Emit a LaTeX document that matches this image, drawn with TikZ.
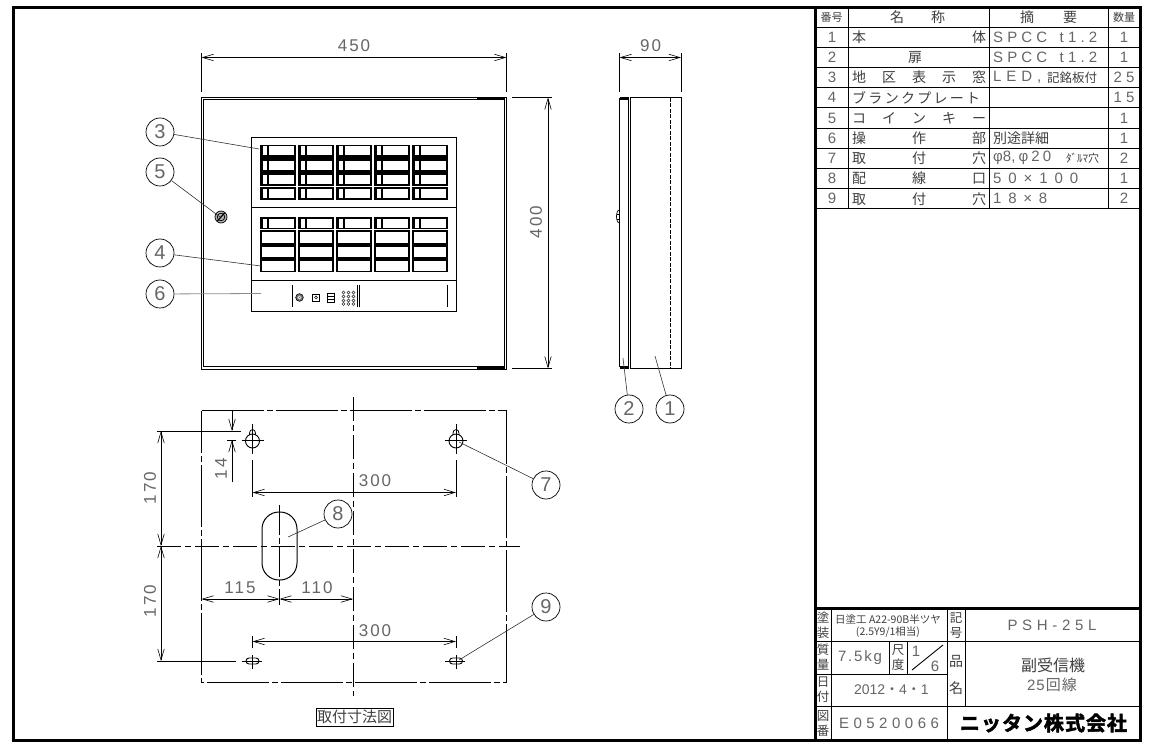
\documentclass[tikz,border=0pt]{standalone}
\usepackage{fontspec}
\usetikzlibrary{arrows.meta}
\setmainfont{Liberation Sans}
\newfontfamily\cjk{Noto Sans CJK JP}
\newfontfamily\cjkb[FakeBold=2.5]{Noto Sans CJK JP Bold}
\newfontfamily\dimfont[LetterSpace=12]{Liberation Sans}
\newcommand{\sprd}[2]{\makebox[#1pt][s]{#2}}
\newcommand{\hf}{\hfil}
\tikzset{
 x=1pt,y=-1pt,
 ln/.style={line width=0.9pt,black},
 thin line/.style={line width=0.7pt,black!85},
 frame line/.style={line width=3pt,black},
 dimline/.style={line width=0.9pt,{Straight Barb[length=11pt,width=6.5pt,line width=0.6pt]}-{Straight Barb[length=11pt,width=6.5pt,line width=0.6pt]}},
 extline/.style={line width=0.9pt},
 balloon/.style={circle,draw,line width=0.7pt,minimum size=28pt,inner sep=0pt,font=\fontsize{20}{20}\selectfont,text=black!60},
 leader/.style={line width=0.6pt,black!80},
 dimtext/.style={inner sep=0pt,font=\dimfont\fontsize{17}{17}\selectfont,text=black!60},
 cell/.style={inner sep=0pt,anchor=west,font=\cjk\fontsize{14}{14}\selectfont,text=black!75},
 latin/.style={inner sep=0pt,anchor=west,font=\fontsize{15}{15}\selectfont,text=black!60},
 num/.style={inner sep=0pt,font=\fontsize{15}{15}\selectfont,text=black!60},
 stack/.style={inner sep=0pt,align=center,font=\cjk\fontsize{12.5}{15}\selectfont,text=black!75},
 cline/.style={line width=0.8pt,dash pattern=on 24pt off 4pt on 6pt off 4pt},
 edge line/.style={line width=1pt,dash pattern=on 62pt off 3pt on 6pt off 3pt},
}
\begin{document}
\begin{tikzpicture}
\useasboundingbox (0,0) rectangle (1152,751);
\fill[white] (0,0) rectangle (1152,751);
% outer frame
\draw[frame line] (13.5,7.5) rectangle (1140,740);
\draw[frame line] (815,7.5) -- (815,740);
\draw[frame line] (815,608) -- (1140,608);
% parts list
\foreach \y in {27,47.2,67.4,87.6,107.8,128,148.2,168.4,188.6,208.8}{\draw[ln] (815,\y) -- (1140,\y);}
\foreach \x in {848,989,1108}{\draw[ln] (\x,8) -- (\x,208.8);}
\node[stack,font=\cjk\fontsize{11}{11}\selectfont] (h1) at (831.5,17.5) {番号};
\node[cell] (h2) at (890,17.5) {\sprd{55}{名\hf 称}};
\node[cell] (h3) at (1020,17.5) {\sprd{57}{摘\hf 要}};
\node[stack,font=\cjk\fontsize{11}{11}\selectfont] (h4) at (1124,17.5) {数量};
\node[num] (r1n) at (832,37) {1};
\node[num] (r2n) at (832,57.2) {2};
\node[num] (r3n) at (832,77.5) {3};
\node[num] (r4n) at (832,97.7) {4};
\node[num] (r5n) at (832,118) {5};
\node[num] (r6n) at (832,138) {6};
\node[num] (r7n) at (832,158.3) {7};
\node[num] (r8n) at (832,178.5) {8};
\node[num] (r9n) at (832,198.7) {9};
\node[cell] (r1a) at (852,37) {\sprd{134}{本\hf 体}};
\node[cell,anchor=center] (r2a) at (915,57.2) {扉};
\node[cell] (r3a) at (852,77.5) {\sprd{134}{地\hf 区\hf 表\hf 示\hf 窓}};
\node[cell] (r4a) at (852,97.7) {\sprd{128}{ブ\hf ラ\hf ン\hf ク\hf プ\hf レ\hf ー\hf ト}};
\node[cell] (r5a) at (852,118) {\sprd{134}{コ\hf イ\hf ン\hf キ\hf ー}};
\node[cell] (r6a) at (852,138) {\sprd{134}{操\hf 作\hf 部}};
\node[cell] (r7a) at (852,158.3) {\sprd{134}{取\hf 付\hf 穴}};
\node[cell] (r8a) at (852,178.5) {\sprd{134}{配\hf 線\hf 口}};
\node[cell] (r9a) at (852,198.7) {\sprd{134}{取\hf 付\hf 穴}};
\node[latin] (r1b) at (993,37) {\sprd{104}{S\hf P\hf C\hf C\hf\hf\hf t\hf 1\hf .\hf 2}};
\node[latin] (r2b) at (993,57.2) {\sprd{104}{S\hf P\hf C\hf C\hf\hf\hf t\hf 1\hf .\hf 2}};
\node[latin] (r3b) at (993,77.5) {\sprd{48}{L\hf E\hf D\hf ,}};
\node[cell,font=\cjk\fontsize{12.5}{12.5}\selectfont] (r3c) at (1047,77.5) {記銘板付};
\node[cell] (r6b) at (993,138) {別途詳細};
\node[latin] (r7b) at (993,158.3) {\sprd{58}{φ8,\hf φ\hf 2\hf 0}};
\node[cell,font=\cjk\fontsize{11}{11}\selectfont] (r7c) at (1066,158.3) {ﾀﾞﾙﾏ穴};
\node[latin] (r8b) at (993,178.5) {\sprd{85}{5\hf 0\hf ×\hf 1\hf 0\hf 0}};
\node[latin] (r9b) at (993,198.7) {\sprd{54}{1\hf 8\hf ×\hf 8}};
\node[num] (r1q) at (1124,37) {1};
\node[num] (r2q) at (1124,57.2) {1};
\node[num] (r3q) at (1124,77.5) {\sprd{21}{2\hf 5}};
\node[num] (r4q) at (1124,97.7) {\sprd{21}{1\hf 5}};
\node[num] (r5q) at (1124,118) {1};
\node[num] (r6q) at (1124,138) {1};
\node[num] (r7q) at (1124,158.3) {2};
\node[num] (r8q) at (1124,178.5) {1};
\node[num] (r9q) at (1124,198.7) {2};
% title block
\draw[ln] (815,641) -- (1140,641);
\draw[ln] (815,674) -- (947,674);
\draw[ln] (815,706) -- (1140,706);
\draw[ln] (831,608) -- (831,740);
\draw[ln] (947,608) -- (947,740);
\draw[ln] (965,608) -- (965,706);
\draw[ln] (889,641) -- (889,674);
\draw[ln] (907,641) -- (907,674);
\draw[ln] (912,670) -- (943,645);
\node[stack] (t1) at (823,625) {塗\\装};
\node[stack,font=\cjk\fontsize{10.5}{12}\selectfont] (t2) at (888,626) {日塗工 A22-90B半ツヤ\\(2.5Y9/1相当)};
\node[stack] (t3) at (956,625) {記\\号};
\node[latin,anchor=center] (t4) at (1052,625) {\sprd{89}{P\hf S\hf H\hf -\hf 2\hf 5\hf L}};
\node[stack] (t5) at (823,657.5) {質\\量};
\node[latin,anchor=center] (t6) at (860,657.5) {\sprd{44}{7\hf .\hf 5\hf k\hf g}};
\node[stack] (t7) at (898,657.5) {尺\\度};
\node[num] (t8) at (916,651) {1};
\node[num] (t9) at (935,666) {6};
\node[cell,anchor=center] (t10) at (956,661) {品};
\node[cell,anchor=center] (t11) at (956,688) {名};
\node[stack] (t12) at (823,690) {日\\付};
\node[num,font=\fontsize{14}{14}\selectfont] (t13) at (889,690) {\sprd{70}{2\hf 0\hf 1\hf 2\hf{\cjk ・}\hf 4\hf{\cjk ・}\hf 1}};
\node[stack] (t14) at (823,723.5) {図\\番};
\node[num] (t15) at (889,723) {\sprd{100}{E\hf 0\hf 5\hf 2\hf 0\hf 0\hf 6\hf 6}};
\node[cell,anchor=center,font=\cjk\fontsize{16}{16}\selectfont] (t16) at (1052,665) {\sprd{62}{副\hf 受\hf 信\hf 機}};
\node[num] (t17) at (1052,685) {\sprd{50}{2\hf 5\hf\cjk 回\hf 線}};
\node[inner sep=0pt,text=black,font=\cjkb\fontsize{20}{20}\selectfont] (logo) at (1043.5,723) {\sprd{167}{ニ\hf ッ\hf タ\hf ン\hf 株\hf 式\hf 会\hf 社}};
% front view
\draw[line width=1pt] (201.5,97.5) rectangle (506.5,369.5);
\draw[line width=1pt] (203.5,100) rectangle (504.5,367);
\fill (477,97.5) rectangle (505,100.5);
\fill (477,366.5) rectangle (505,369.5);
\coordinate (fTL) at (201.5,92);
\coordinate (fTR) at (506.5,92);
\draw[extline] (201.5,53) -- (fTL);
\draw[extline] (506.5,53) -- (fTR);
\coordinate (d450a) at (201.5,57.5);
\coordinate (d450b) at (506.5,57.5);
\draw[dimline] (d450a) -- (d450b);
\node[dimtext] (l450) at (354,46) {450};
\draw[extline] (512,97.5) -- (552,97.5);
\draw[extline] (512,368.5) -- (552,368.5);
\coordinate (d400a) at (548,97.5);
\coordinate (d400b) at (548,368.5);
\draw[dimline] (d400a) -- (d400b);
\node[dimtext,rotate=90] (l400) at (536,222) {400};
% panel
\draw[line width=0.9pt] (251,137) rectangle (456,311);
\draw[line width=0.9pt] (251,207) -- (456,207);
\draw[line width=0.9pt] (251,280) -- (456,280);
% upper windows
\foreach \cx in {259.5,297.5,335.5,373.5,411.5}{
 \fill[black] (\cx,145) rectangle ++(36.5,55);
 \foreach \wy in {146.5,161,175.5,189.5}{
  \fill[white] (\cx+3,\wy) rectangle ++(4.5,8.8);
  \fill[white] (\cx+9.5,\wy) rectangle ++(25,8.8);
 }
 \draw[white,line width=0.6pt] (\cx+0.3,186.3) -- ++(36,0);
 \draw[white,line width=0.6pt] (\cx-0.6,144) -- ++(0,57);
}
% lower windows
\foreach \cx in {259.5,297.5,335.5,373.5,411.5}{
 \fill[black] (\cx,217) rectangle ++(36.5,55);
 \fill[white] (\cx+3,219) rectangle ++(4.5,8.8);
 \fill[white] (\cx+9.5,219) rectangle ++(25,8.8);
 \draw[white,line width=0.6pt] (\cx+0.3,229.8) -- ++(36,0);
 \foreach \wy/\wh in {232.5/10.5,247.5/9.7,261.5/9.7}{
  \fill[white] (\cx+2,\wy) rectangle ++(32.5,\wh);
 }
 \draw[white,line width=0.6pt] (\cx-0.6,216) -- ++(0,57);
}
% operating part
\draw[line width=0.9pt] (292.5,285) -- (292.5,307);
\draw[line width=0.6pt,fill=black!55] (299.5,297.5) circle (3.8);
\draw[line width=0.5pt,white] (299.5,297.5) circle (1.6);
\draw[line width=0.7pt] (312.5,294) rectangle (319.5,301);
\draw[line width=0.5pt] (316,297.5) circle (1.4);
\draw[line width=0.7pt] (327.5,293) rectangle (334,302);
\draw[line width=0.6pt] (327.5,296) -- (334,296) (327.5,299) -- (334,299);
\foreach \px in {343.5,348.5,353.5}{\foreach \py in {292.5,296.5,300.5,304}{\draw[line width=0.5pt,black!80] (\px,\py) circle (1.5);}}
\draw[line width=0.9pt] (357.5,285) -- (357.5,307);
\draw[line width=0.9pt] (359.7,285) -- (359.7,307);
\draw[line width=0.9pt] (447,285) -- (447,307);
% coin key
\draw[line width=0.7pt,fill=black!30] (221,217) circle (6);
\draw[line width=0.7pt] (221,217) circle (3.8);
\draw[line width=1.2pt] (217.5,221) -- (224.5,213);
% balloons front
\node[balloon] (b3) at (160,132) {3};
\node[balloon] (b5) at (160,172) {5};
\node[balloon] (b4) at (160,253) {4};
\node[balloon] (b6) at (160,294) {6};
\coordinate (e3) at (259,149);
\coordinate (e5) at (220,217);
\coordinate (e4) at (261,266);
\coordinate (e6) at (261,293.5);
\draw[leader] (b3) -- (e3);
\draw[leader] (b5) -- (e5);
\draw[leader] (b4) -- (e4);
\draw[line width=0.8pt,black!45] (b6) -- (e6);
% side view
\draw[line width=1pt] (630.5,97.5) rectangle (681,368.5);
\draw[line width=1pt] (619.5,99) rectangle (628.5,367);
\draw[line width=0.7pt] (628.5,113) -- (628.5,353) ;
\draw[line width=1pt,dash pattern=on 4pt off 1.5pt] (670.5,98) -- (670.5,368);
\fill (620,97.5) rectangle (628.5,100.5);
\fill (620,366) rectangle (628.5,369);
\draw[line width=0.7pt] (619.5,210) .. controls (615.5,210) and (615.5,223) .. (619.5,223);
\draw[line width=0.5pt] (616.5,214) -- (619.5,214) (616.5,219) -- (619.5,219);
\draw[extline] (619.5,53) -- (619.5,92);
\draw[extline] (681,53) -- (681,92);
\coordinate (d90a) at (619.5,57.5);
\coordinate (d90b) at (681,57.5);
\draw[dimline] (d90a) -- (d90b);
\node[dimtext] (l90) at (650.5,46) {90};
\node[balloon] (b2) at (629,409) {2};
\node[balloon] (b1) at (670,409) {1};
\coordinate (e2) at (623,358);
\coordinate (e1) at (655,356);
\draw[leader] (b2) -- (e2);
\draw[leader] (b1) -- (e1);
% mounting view
\draw[edge line] (201.5,411) -- (506.5,411) -- (506.5,682) -- (201.5,682) -- cycle;
\draw[cline] (353,397) -- (353,696);
\draw[cline] (157,546) -- (520,546);
% keyholes
\foreach \hx in {252.5,456}{
 \draw[line width=0.9pt] (\hx,441) circle (7);
 \draw[line width=0.8pt] (\hx-3,435) -- (\hx-3,433) .. controls (\hx-3,428.5) and (\hx+3,428.5) .. (\hx+3,433) -- (\hx+3,435);
 \draw[line width=0.8pt] (\hx,424) -- (\hx,454);
 \draw[line width=0.8pt] (\hx-11,440.5) -- (\hx+11,440.5);
 \draw[line width=0.9pt] (\hx,460) -- (\hx,497);
}
% lower holes
\foreach \hx in {252.5,456}{
 \draw[line width=0.9pt,rounded corners=3pt] (\hx-6.5,658) rectangle (\hx+6.5,664);
 \draw[line width=0.8pt] (\hx,655) -- (\hx,669);
 \draw[line width=0.8pt] (\hx-11,661) -- (\hx+9,661);
 \draw[line width=0.9pt] (\hx,636) -- (\hx,648);
}
% slot
\draw[line width=1pt,rounded corners=17pt] (262,512) rectangle (297,580);
\draw[cline,dash pattern=on 30pt off 3pt on 6pt off 3pt] (279.5,505) -- (279.5,605);
% dims
\draw[extline] (157,431) -- (241,431);
\draw[extline] (157,661) -- (236,661);
\draw[extline] (227,440) -- (236,440);
\coordinate (d14a) at (232,411);
\coordinate (d14b) at (232,431);
\coordinate (d14c) at (232,440);
\coordinate (d14d) at (232,482);
\draw[line width=0.9pt,-{Straight Barb[length=11pt,width=6.5pt,line width=0.6pt]}] (d14a) -- (d14b);
\draw[line width=0.9pt,-{Straight Barb[length=11pt,width=6.5pt,line width=0.6pt]}] (d14d) -- (d14c);
\node[dimtext,rotate=90] (l14) at (221,469) {14};
\coordinate (d170a) at (161,431);
\coordinate (d170b) at (161,546);
\coordinate (d170c) at (161,661);
\draw[dimline] (d170a) -- (d170b);
\draw[dimline] (d170b) -- (d170c);
\node[dimtext,rotate=90] (l170a) at (150,488) {170};
\node[dimtext,rotate=90] (l170b) at (150,601) {170};
\coordinate (d300a) at (252.5,492.5);
\coordinate (d300b) at (456,492.5);
\draw[dimline] (d300a) -- (d300b);
\node[dimtext] (l300a) at (375,481) {300};
\coordinate (d300c) at (252.5,641.5);
\coordinate (d300d) at (456,641.5);
\draw[dimline] (d300c) -- (d300d);
\node[dimtext] (l300b) at (375,631) {300};
\coordinate (d115a) at (201.5,599);
\coordinate (d115b) at (279.5,599);
\coordinate (d115c) at (353,599);
\draw[dimline] (d115a) -- (d115b);
\draw[dimline] (d115b) -- (d115c);
\node[dimtext] (l115) at (240,588) {115};
\node[dimtext] (l110) at (317,588) {110};
% balloons mount
\node[balloon] (b8) at (338,514) {8};
\node[balloon] (b7) at (546,485) {7};
\node[balloon] (b9) at (546,607) {9};
\coordinate (e8) at (288,537);
\coordinate (e7) at (459,442);
\coordinate (e9) at (459,660);
\draw[leader] (b8) -- (e8);
\draw[leader] (b7) -- (e7);
\draw[leader] (b9) -- (e9);
% caption
\node[draw,line width=0.9pt,inner sep=0pt,minimum width=77pt,minimum height=18pt,font=\cjk\fontsize{15}{15}\selectfont,text=black!75] (cap) at (354.5,717) {取付寸法図};
\end{tikzpicture}
\end{document}
